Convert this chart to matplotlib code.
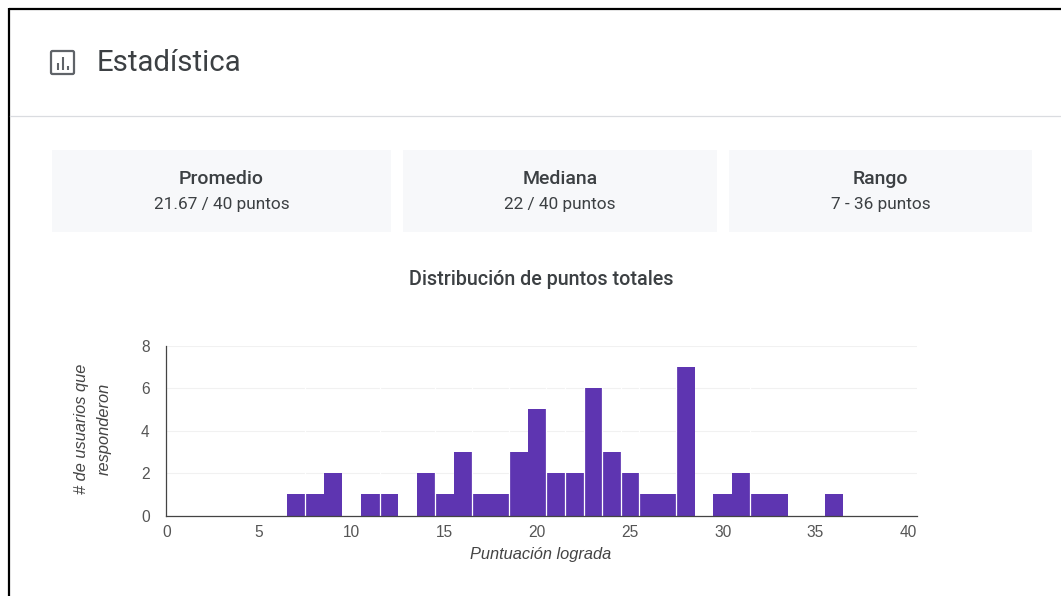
import matplotlib
matplotlib.use('Agg')
import matplotlib.pyplot as plt
from matplotlib.patches import FancyBboxPatch, Rectangle

# Datos
puntuaciones = [7, 8, 9, 11, 12, 14, 15, 16, 17, 18, 19, 20, 21, 22, 23, 24, 25, 26, 27, 28, 30, 31, 32, 33, 36]
usuarios = [1, 1, 2, 1, 1, 2, 1, 3, 1, 1, 3, 5, 2, 2, 6, 3, 2, 1, 1, 7, 1, 2, 1, 1, 1]
xticks = [0, 5, 10, 15, 20, 25, 30, 35, 40]
yticks = [0, 2, 4, 6, 8]
tarjetas = ['Promedio', 'Mediana', 'Rango']
valores = ['21.67 / 40 puntos', '22 / 40 puntos', '7 - 36 puntos']

# Barras que llevan una linea blanca a su derecha
con_separador = [7, 11, 14, 16, 18, 20, 21, 22, 23, 24, 25, 27, 31]

W, H = 1061, 596
fig = plt.figure(figsize=(W / 100, H / 100), dpi=100, facecolor='white')

# Capa de fondo en pixeles
bg = fig.add_axes([0, 0, 1, 1])
bg.set_xlim(0, W)
bg.set_ylim(H, 0)
bg.axis('off')

bg.plot([9, W], [9, 9], color='black', lw=1.6, solid_capstyle='butt')
bg.plot([9, 9], [8, H], color='black', lw=1.6, solid_capstyle='butt')
bg.plot([10, W], [115.5, 115.5], color='#dadce0', lw=0.9)

# Icono
bg.add_patch(FancyBboxPatch((51, 51), 23, 23, boxstyle='round,pad=0,rounding_size=1.5',
                            fc='none', ec='#5f6368', lw=1.6))
for xi, y0 in zip([57.5, 62.5, 68], [63, 57, 66]):
    bg.plot([xi, xi], [y0, 69.5], color='#5f6368', lw=1.5, solid_capstyle='butt')

bg.text(97, 63, 'Estadística', family='Roboto', fontsize=21.2, color='#3c4043', va='center', ha='left')

# Tarjetas
cajas = [(52, 391), (403, 717), (729, 1032)]
for (x0, x1), nombre, valor in zip(cajas, tarjetas, valores):
    bg.add_patch(Rectangle((x0, 150), x1 - x0, 82, fc='#f7f8fa', ec='none'))
    xc = (x0 + x1) / 2
    bg.text(xc, 179, nombre, family='Roboto', fontsize=14, weight='medium', color='#3c4043', ha='center', va='center')
    bg.text(xc, 204.5, valor, family='Roboto', fontsize=12.4, color='#3c4043', ha='center', va='center')

bg.text(541, 279.5, 'Distribución de puntos totales', family='Roboto', fontsize=14.2, weight='medium',
        color='#3c4043', ha='center', va='center')

# Grafica
izq, der, arriba, abajo = 166.3, 917.0, 345.7, 515.7
ax = fig.add_axes([izq / W, 1 - abajo / H, (der - izq) / W, (abajo - arriba) / H])
ax.patch.set_alpha(0)
ax.set_xlim(0, 40.48)
ax.set_ylim(0, 8)

ax.bar(puntuaciones, usuarios, width=1, color='#5e35b1', zorder=3)
for p in con_separador:
    ax.axvline(p + 0.5, color='white', lw=0.9, ymax=0.9, zorder=4)

ax.set_xticks(xticks)
ax.set_yticks(yticks)
ax.grid(axis='y', color='#f1f1f1', lw=0.8, zorder=0)
ax.tick_params(length=0, labelsize=11.2, labelcolor='#555555', pad=6.5)
ax.tick_params(axis='y', pad=12)
for lab in ax.get_xticklabels() + ax.get_yticklabels():
    lab.set_family('Liberation Sans')

for s in ['top', 'right']:
    ax.spines[s].set_visible(False)
for s in ['left', 'bottom']:
    ax.spines[s].set_color('#444444')
    ax.spines[s].set_linewidth(0.9)
    ax.spines[s].set_zorder(5)

bg.text(541, 555, 'Puntuación lograda', family='Liberation Sans', style='italic', fontsize=11.8,
        color='#444444', ha='center', va='center')
bg.text(93, 429, '# de usuarios que\nresponderon', family='Liberation Sans', style='italic', fontsize=11.8,
        color='#444444', ha='center', va='center', rotation=90, linespacing=1.6, multialignment='center')

plt.savefig('out.png', dpi=100)
